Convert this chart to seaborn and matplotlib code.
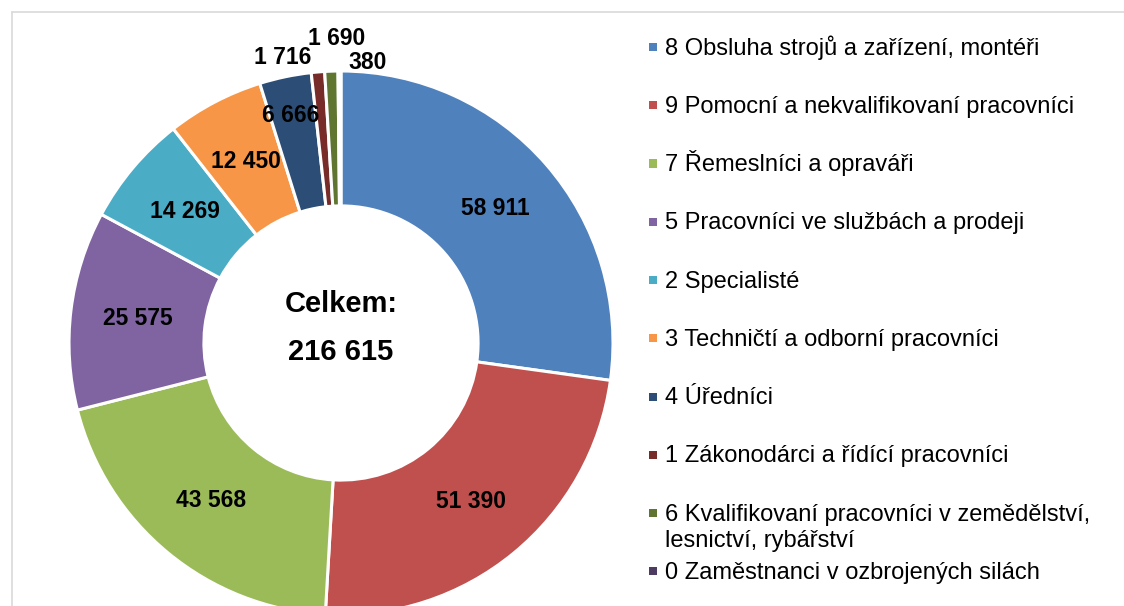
import matplotlib
matplotlib.use("Agg")
import matplotlib.pyplot as plt
import seaborn as sns
import numpy as np
from matplotlib.lines import Line2D
from matplotlib.patches import Rectangle

# Data (clockwise from 12 o'clock)
categories = [
    "8 Obsluha strojů a zařízení, montéři",
    "9 Pomocní a nekvalifikovaní pracovníci",
    "7 Řemeslníci a opraváři",
    "5 Pracovníci ve službách a prodeji",
    "2 Specialisté",
    "3 Techničtí a odborní pracovníci",
    "4 Úředníci",
    "1 Zákonodárci a řídící pracovníci",
    "6 Kvalifikovaní pracovníci v zemědělství,\nlesnictví, rybářství",
    "0 Zaměstnanci v ozbrojených silách",
]
counts = [58911, 51390, 43568, 25575, 14269, 12450, 6666, 1716, 1690, 380]
colors = ["#4F81BD", "#C0504D", "#9BBB59", "#8064A2", "#4BACC6",
          "#F79646", "#2C4D75", "#772C2A", "#5F7530", "#4D3B62"]
center_title = "Celkem:"

sns.set_theme(style="white")
plt.rcParams["font.family"] = ["Liberation Sans", "DejaVu Sans"]
plt.rcParams["text.color"] = "black"
palette = sns.color_palette(colors)

W, H = 1124, 606
fig = plt.figure(figsize=(W / 100, H / 100), dpi=100)
fig.patch.set_facecolor("white")

# donut geometry in pixels
cx, cy, R = 341, 343, 272
ring = 0.496
ax = fig.add_axes([(cx - R) / W, (H - cy - R) / H, 2 * R / W, 2 * R / H])
wedges, _ = ax.pie(counts, colors=palette, startangle=90, counterclock=False,
                   radius=1, wedgeprops=dict(width=ring, edgecolor="white",
                                             linewidth=2.2))
ax.set_xlim(-1, 1)
ax.set_ylim(-1, 1)
ax.set_aspect("equal")
ax.axis("off")
for w in wedges:
    w.set_clip_on(False)

# data labels: mid-ring, small slices moved out like in the original
moved = {6: (-0.184, 0.838), 7: (-0.213, 1.051), 8: (-0.015, 1.121), 9: (0.096, 1.033)}
r_mid = 1 - ring / 2
for i, (w, v) in enumerate(zip(wedges, counts)):
    th = np.deg2rad((w.theta1 + w.theta2) / 2)
    x, y = moved.get(i, (r_mid * np.cos(th), r_mid * np.sin(th)))
    ax.text(x, y, f"{v:,}".replace(",", " "), ha="center", va="center",
            fontsize=16.5, fontweight="bold", color="black", clip_on=False)

total = sum(counts)
ax.text(0, (cy - 304) / R, center_title, ha="center", va="center",
        fontsize=21, fontweight="bold", color="black")
ax.text(0, (cy - 352) / R, f"{total:,}".replace(",", " "), ha="center",
        va="center", fontsize=21, fontweight="bold", color="black")

# legend drawn by hand to mimic the Excel layout
for i, (lab, col) in enumerate(zip(categories, palette)):
    yc = 47 + 58.25 * i
    fig.add_artist(Rectangle(((649) / W, 1 - (yc + 4) / H), 8 / W, 8 / H,
                             transform=fig.transFigure, facecolor=col,
                             edgecolor="none"))
    for k, line in enumerate(lab.split("\n")):
        fig.text(665 / W, 1 - (yc + 7.5 + 27 * k) / H, line, ha="left",
                 va="baseline", fontsize=17, color="black")

# light grey chart frame (top and left edges visible)
fig.add_artist(Line2D([12 / W, 1], [1 - 12 / H, 1 - 12 / H],
                      transform=fig.transFigure, color="#d9d9d9", lw=1.2))
fig.add_artist(Line2D([12 / W, 12 / W], [0, 1 - 12 / H],
                      transform=fig.transFigure, color="#d9d9d9", lw=1.2))

fig.savefig("out.png", dpi=100, facecolor="white")
